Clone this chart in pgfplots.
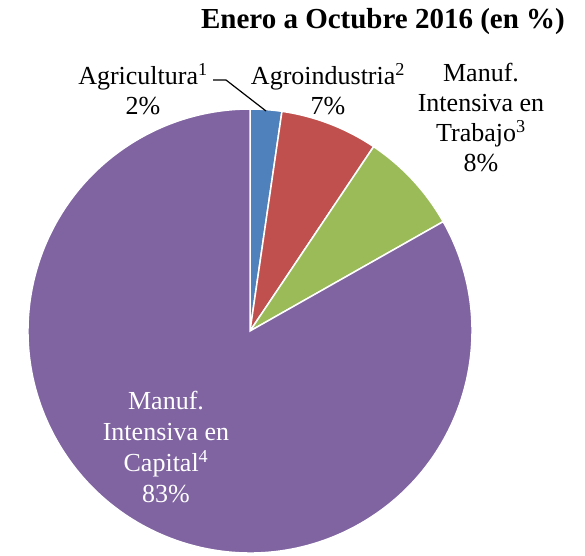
\documentclass[border=0pt]{standalone}
\usepackage{pgfplots}
\pgfplotsset{compat=1.18}
\usepackage{pgfplotstable}
\usepackage{fontspec}
\setmainfont{Liberation Serif}
\definecolor{cBlue}{HTML}{4F81BD}
\definecolor{cRed}{HTML}{C0504D}
\definecolor{cGreen}{HTML}{9BBB59}
\definecolor{cPurple}{HTML}{8064A2}
\pgfplotstableread{
label value
Agricultura 2.3
Agroindustria 7.1
Trabajo 7.4
Capital 83.2
}\piedata
\pgfplotstablegetelem{0}{value}\of\piedata \let\vA\pgfplotsretval
\pgfplotstablegetelem{1}{value}\of\piedata \let\vB\pgfplotsretval
\pgfplotstablegetelem{2}{value}\of\piedata \let\vC\pgfplotsretval
\pgfmathsetmacro\aA{90-3.6*\vA}
\pgfmathsetmacro\aB{\aA-3.6*\vB}
\pgfmathsetmacro\aC{\aB-3.6*\vC}
\pgfmathsetmacro\xA{cos(\aA)}\pgfmathsetmacro\yA{sin(\aA)}
\pgfmathsetmacro\xB{cos(\aB)}\pgfmathsetmacro\yB{sin(\aB)}
\pgfmathsetmacro\xC{cos(\aC)}\pgfmathsetmacro\yC{sin(\aC)}
\begin{document}
\begin{tikzpicture}[x=1pt,y=1pt]
\path[use as bounding box] (0,0) rectangle (585,555);
\begin{axis}[at={(250pt,224pt)}, anchor=origin, scale only axis,
  width=444pt, height=444pt, xmin=-1, xmax=1, ymin=-1, ymax=1,
  enlargelimits=false, hide axis, clip=false]
\fill[cBlue, draw=white, line width=1.5pt] (axis cs:0,0) -- (axis cs:0,1) arc[start angle=90, end angle=\aA, radius=222pt] -- cycle;
\fill[cRed, draw=white, line width=1.5pt] (axis cs:0,0) -- (axis cs:\xA,\yA) arc[start angle=\aA, end angle=\aB, radius=222pt] -- cycle;
\fill[cGreen, draw=white, line width=1.5pt] (axis cs:0,0) -- (axis cs:\xB,\yB) arc[start angle=\aB, end angle=\aC, radius=222pt] -- cycle;
\fill[cPurple, draw=white, line width=1.5pt] (axis cs:0,0) -- (axis cs:\xC,\yC) arc[start angle=\aC, end angle=-270, radius=222pt] -- cycle;
\end{axis}
\node[font=\fontsize{29}{34}\selectfont\bfseries] at (383,533) {Enero a Octubre 2016 (en \%)};
\begin{scope}[every node/.style={align=center, font=\fontsize{26}{30}\selectfont, inner sep=0pt}]
\node at (143,466) {Agricultura\textsuperscript{1}\\2\%};
\node at (328,466) {Agroindustria\textsuperscript{2}\\7\%};
\node at (481,437) {Manuf.\\Intensiva en\\Trabajo\textsuperscript{3}\\8\%};
\node[text=white, font=\fontsize{26}{31}\selectfont] at (166,108) {Manuf.\\Intensiva en\\Capital\textsuperscript{4}\\83\%};
\end{scope}
\draw[line width=1.2pt] (213,475) -- (226,475) -- (266,444);
\end{tikzpicture}
\end{document}
